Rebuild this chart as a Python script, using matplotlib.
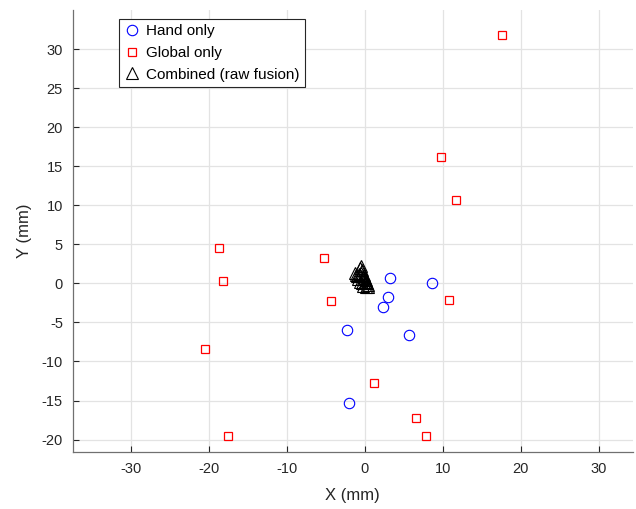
import matplotlib
matplotlib.use("Agg")
import matplotlib.pyplot as plt

# Hand only (circles)
hand_x = [3.2, 8.6, 3.0, 2.35, 5.6, -2.35, -2.05]
hand_y = [0.65, 0.0, -1.75, -3.0, -6.6, -5.9, -15.3]

# Global only (squares)
glob_x = [17.6, 9.8, 11.7, -18.7, -18.2, -5.3, -4.3, 10.8, -20.5, 1.1, 6.5, 7.8, -17.6]
glob_y = [31.85, 16.15, 10.7, 4.5, 0.3, 3.3, -2.2, -2.1, -8.4, -12.7, -17.3, -19.6, -19.5]

# Combined (raw fusion) (triangles)
comb_x = [-0.5, -0.6, -0.4, -1.3, -1.1, -0.1, -0.9, 0.15, -0.65, -0.25, 0.13, 0.45,
          -0.3, 0.0, 0.3, -0.8, -0.45, -0.2, 0.05, -0.55, 0.2, -1.0, -0.35, 0.35]
comb_y = [2.3, 1.95, 1.7, 1.4, 1.05, 1.05, 0.6, 0.4, 0.2, -0.3, -0.4, -0.45,
          0.9, 0.2, 0.0, 1.2, 1.4, 0.6, 0.7, 0.9, 0.15, 0.9, 0.0, -0.2]

x_ticks = [-30, -20, -10, 0, 10, 20, 30]
y_ticks = [-20, -15, -10, -5, 0, 5, 10, 15, 20, 25, 30]

plt.rcParams['font.family'] = ['Liberation Sans', 'DejaVu Sans']

fig = plt.figure(figsize=(6.36, 5.09), dpi=100)
ax = fig.add_axes([72.7 / 636, 57 / 509, 560.3 / 636, 442 / 509])

ax.plot(hand_x, hand_y, linestyle='none', marker='o', markersize=7.5,
        markerfacecolor='none', markeredgecolor='#0000ff', markeredgewidth=0.8,
        label='Hand only')
ax.plot(glob_x, glob_y, linestyle='none', marker='s', markersize=5.6,
        markerfacecolor='none', markeredgecolor='#ff0000', markeredgewidth=0.9,
        label='Global only')
ax.plot(comb_x, comb_y, linestyle='none', marker='^', markersize=8.0,
        markerfacecolor='none', markeredgecolor='black', markeredgewidth=0.8,
        label='Combined (raw fusion)')

ax.set_xlim(-37.5, 34.4)
ax.set_ylim(-21.6, 35.05)
ax.set_xticks(x_ticks)
ax.set_yticks(y_ticks)
ax.set_xticklabels([str(v) for v in x_ticks])
ax.set_yticklabels([str(v) for v in y_ticks])

ax.grid(True, color='#e3e3e3', linewidth=0.9)
ax.set_axisbelow(True)
for s in ['top', 'right']:
    ax.spines[s].set_visible(False)
for s in ['left', 'bottom']:
    ax.spines[s].set_color('#707070')
    ax.spines[s].set_linewidth(0.9)
ax.tick_params(direction='in', length=4, width=0.8, color='#262626',
               labelsize=10.5, labelcolor='#262626', pad=7)

ax.set_xlabel('X (mm)', fontsize=12, color='#262626', labelpad=9)
ax.set_ylabel('Y (mm)', fontsize=12, color='#262626', labelpad=7)

leg = ax.legend(loc='upper left', bbox_to_anchor=(0.0826, 0.9796),
                borderaxespad=0, fontsize=11, frameon=True, fancybox=False,
                framealpha=1, edgecolor='#262626', handlelength=1.0,
                handletextpad=0.45, borderpad=0.35, labelspacing=0.5)
leg.get_frame().set_linewidth(0.8)

fig.savefig('out.png', dpi=100)
